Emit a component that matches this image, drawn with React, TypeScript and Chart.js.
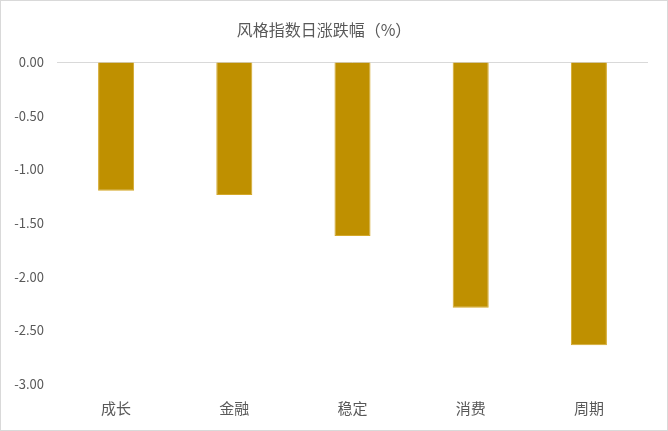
import React, { useEffect, useRef } from "react";
import { Chart, registerables } from "chart.js";

Chart.register(...registerables);

const categories = ["成长", "金融", "稳定", "消费", "周期"];
const values = [-1.2, -1.24, -1.62, -2.29, -2.64];
const titleText = "风格指数日涨跌幅（%）";

const FONT = "'Noto Sans CJK SC', 'Noto Sans', sans-serif";
const TEXT = "#595959";

export default function App() {
  const ref = useRef<HTMLCanvasElement | null>(null);
  useEffect(() => {
    if (!ref.current) return;
    const chart = new Chart(ref.current, {
      type: "bar",
      data: {
        labels: categories,
        datasets: [
          {
            data: values,
            backgroundColor: "#BF9000",
            borderColor: "#D4A82A",
            borderWidth: 1,
            borderSkipped: "start",
            barPercentage: 0.305,
            categoryPercentage: 1,
          },
        ],
      },
      options: {
        animation: false,
        responsive: false,
        maintainAspectRatio: false,
        layout: { padding: { left: 0, right: 20, top: 0, bottom: 14 } },
        plugins: {
          legend: { display: false },
          tooltip: { enabled: false },
          title: {
            display: true,
            text: titleText,
            color: TEXT,
            font: { family: FONT, size: 16, weight: "normal" },
            padding: { top: 20.4, bottom: 22.4 },
          },
        },
        scales: {
          x: {
            position: "bottom",
            grid: { display: false, drawTicks: false },
            border: { display: false },
            ticks: {
              color: TEXT,
              font: { family: FONT, size: 15 },
              padding: 15,
              maxRotation: 0,
            },
            afterFit: (s: any) => {
              s.height = 33;
            },
          },
          y: {
            min: -3,
            max: 0,
            border: { display: false },
            grid: {
              drawTicks: false,
              color: (ctx: any) =>
                ctx.tick && ctx.tick.value === 0 ? "#D9D9D9" : "rgba(0,0,0,0)",
              lineWidth: 1,
            },
            ticks: {
              stepSize: 0.5,
              color: TEXT,
              font: { family: FONT, size: 13 },
              padding: 13,
              callback: (v: any) => Number(v).toFixed(2),
            },
            afterFit: (s: any) => {
              s.width = 57;
            },
          },
        },
      },
    });
    return () => chart.destroy();
  }, []);
  return (
    <div
      style={{
        position: "fixed",
        left: 0,
        top: 0,
        width: 668,
        height: 431,
        background: "#fff",
      }}
    >
      <canvas ref={ref} width={668} height={431} style={{ display: "block" }} />
      <div
        style={{
          position: "absolute",
          inset: 0,
          border: "1px solid #D9D9D9",
          boxSizing: "border-box",
          pointerEvents: "none",
        }}
      />
    </div>
  );
}
